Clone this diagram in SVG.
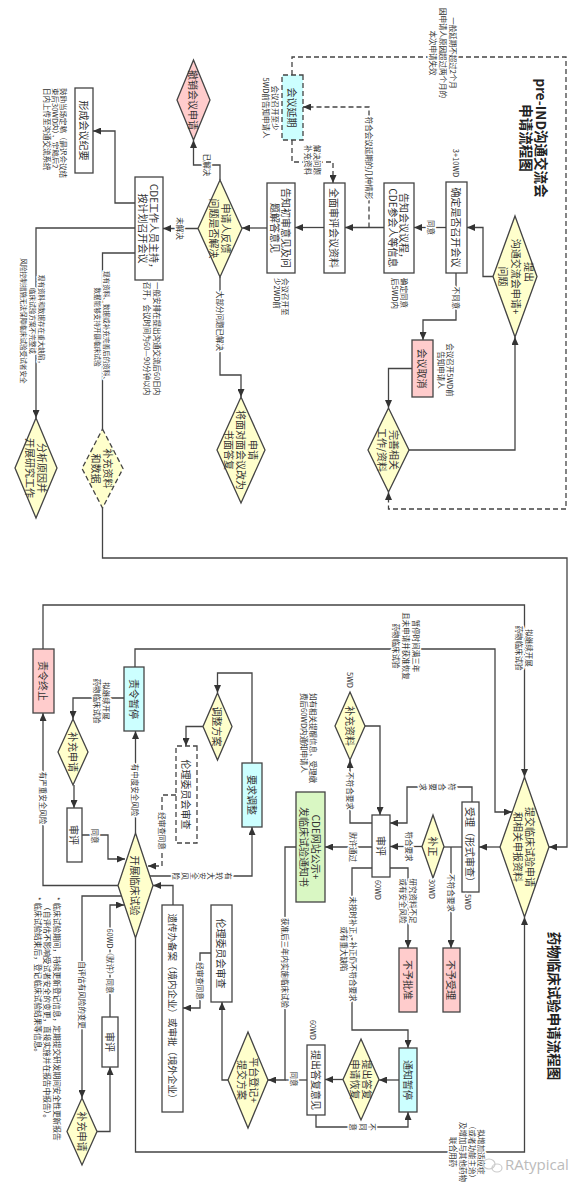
<svg xmlns="http://www.w3.org/2000/svg" width="586" height="1191" viewBox="0 0 586 1191">
<style>
.bx{fill:#fff;stroke:#444;stroke-width:1.3}
.dm{fill:#ffffcc;stroke:#444;stroke-width:1.3}
.pk{fill:#ffcccc}
.cy{fill:#ccffff}
.gr{fill:#d9f7c3}
.ds{stroke-dasharray:5 3}
.ln{fill:none;stroke:#444;stroke-width:1.3}
.ar{marker-end:url(#ah)}
text,tspan{font-family:"Noto Sans CJK SC","Noto Sans",sans-serif;fill:#333;text-anchor:middle;dominant-baseline:central}
.t{font-size:10px}
.l{font-size:7.5px;stroke:#fff;stroke-width:3;paint-order:stroke;stroke-linejoin:round}
.sm{font-size:6.6px}
.s{text-anchor:start}
.h{font-size:13.5px;font-weight:bold;fill:#222}
.wm{font-family:"Open Sans",sans-serif;font-size:15px;fill:#bbb;text-anchor:start;dominant-baseline:auto}
</style>
<defs>
<marker id="ah" markerUnits="userSpaceOnUse" markerWidth="8" markerHeight="7" refX="8" refY="3.5" orient="auto"><path d="M0,0 L8,3.5 L0,7 z" fill="#333"/></marker>
</defs>
<rect width="586" height="1191" fill="#fff"/>
<g transform="translate(586,0) rotate(90)">

<!-- ===== connectors ===== -->
<g id="connectors">
<!-- pre-IND section -->
<path class="ln ar" d="M276.5,93 V103 H227.5 V119"/>
<path class="ln ar" d="M227.5,140 V172"/>
<text class="l" x="227.5" y="155">同意</text>
<path class="ln ar" d="M227.5,202 V241"/>
<path class="ln ar ds" d="M227.5,217 H107 V283"/>
<text class="l" x="158" y="217">符合会议延期的几种情形</text>
<path class="ln ar ds" d="M140,294 H162 V253 H183"/>
<text class="l" x="160" y="269">解决问题</text>
<text class="l" x="160" y="278">补充资料</text>
<path class="ln ar ds" d="M75,294 H57 V20 H509 V197.5 H492"/>
<text class="l" x="53" y="133">一般延期不超过2个月</text>
<text class="l" x="53" y="143">因申请人原因超过两个月的</text>
<text class="l" x="53" y="153">本次申请失效</text>
<path class="ln ar" d="M273,130 H320 V163 H340"/>
<text class="l" x="298" y="130">不同意</text>
<path class="ln ar" d="M368.5,174 V197.5 H408"/>
<path class="ln ar" d="M450,177 V71 H337"/>
<path class="ln ar" d="M227.5,262 V291"/>
<path class="ln ar" d="M228,319 V344"/>
<path class="ln ar" d="M180,366 H165 V392.5 H140"/>
<text class="l" x="165" y="379">已解决</text>
<path class="ln ar" d="M228.5,388 V423"/>
<text class="l" x="228.5" y="406">未解决</text>
<path class="ln ar" d="M203,451 V471 H131 V493"/>
<path class="ln ar" d="M228,451 V550 H418"/>
<text class="l sm" x="321" y="544">现有资料和数据存在重大缺陷，</text>
<text class="l sm" x="321" y="553">临床试验方案不完整或</text>
<text class="l sm" x="321" y="562">风险控制措施无法保障临床试验受试者安全</text>
<path class="ln" d="M253,451 V483.5 H429"/>
<text class="l sm" x="327" y="479">现有资料、数据或补充完善后的资料、</text>
<text class="l sm" x="327" y="488">数据能够支持开展临床试验</text>
<path class="ln ar" d="M277,366 H375 V345 H397"/>
<text class="l" x="321" y="366">大部分问题已解决</text>
<path class="ln ar" d="M508,483.5 H558 V19 H847 V37"/>

<!-- clinical trial section -->
<path class="ln ar" d="M847,86 V107"/>
<path class="ln" d="M847,124 V142"/>
<path class="ln ar" d="M847,135 H948"/>
<text class="l" x="893" y="135">不符合要求</text>
<path class="ln ar" d="M802,114 H787 V179 H823 V196"/>
<text class="l"><tspan x="787" y="133.5">符</tspan><tspan x="787" y="143">合</tspan><tspan x="787" y="152.5">要</tspan><tspan x="787" y="162">求</tspan></text>
<path class="ln ar" d="M846.5,164 V196"/>
<text class="l" x="846.5" y="177">符合要求</text>
<path class="ln ar" d="M847,214 V261"/>
<text class="l" x="847" y="233">默许通过</text>
<path class="ln ar" d="M823,214 V236 H760"/>
<text class="l" x="791" y="236">不符合要求</text>
<path class="ln ar" d="M726,221 V206 H815"/>
<path class="ln ar" d="M868,214 V234 H1030 V178 H1048"/>
<text class="l" x="949" y="233">未按时补正，补正仍不符合要求</text>
<text class="l" x="949" y="242">或有重大缺陷</text>
<path class="ln ar" d="M868,196 V178 H948"/>
<text class="l" x="901" y="173">研究资料不足</text>
<text class="l" x="901" y="183">或有安全风险</text>
<path class="ln ar" d="M1080,187 V207"/>
<path class="ln ar" d="M1079.5,243 V261"/>
<path class="ln ar" d="M1115,270 H1127 V178 H1112"/>
<text class="l"><tspan x="1127" y="213">不</tspan><tspan x="1127" y="222.5">同</tspan><tspan x="1127" y="232">意</tspan></text>
<path class="ln ar" d="M847,290 V301 H1080 V318"/>
<text class="l" x="963" y="301">获准后三年内实施临床试验</text>
<path class="ln" d="M1080,279 V301"/>
<text class="l" x="1079" y="292">同意</text>
<path class="ln ar" d="M1080,358 V364 H1002"/>
<path class="ln ar" d="M953,375 V386 H1008 V403"/>
<text class="l" x="981" y="386">经审查同意</text>
<path class="ln ar" d="M905,413 H885.5 V433"/>
<path class="ln ar" d="M876,436 V334 H827"/>
<text class="l"><tspan x="876" y="357">有</tspan><tspan x="876" y="365.6">较</tspan><tspan x="876" y="374.2">大</tspan><tspan x="876" y="382.8">安</tspan><tspan x="876" y="391.4">全</tspan><tspan x="876" y="400">风</tspan><tspan x="876" y="408.6">险</tspan></text>
<path class="ln ar" d="M763,334 H673 V368.5 H693"/>
<path class="ln ar" d="M726.5,383 V400 H746"/>
<path class="ln ar ds" d="M795,410 V424 H866 V438"/>
<text class="l" x="831" y="424">经审查同意</text>
<path class="ln ar" d="M833,450.5 H731"/>
<text class="l" x="790" y="451">有中度安全风险</text>
<path class="ln ar" d="M885.5,468 V543 H713"/>
<text class="l" x="798" y="543">有严重安全风险</text>
<path class="ln ar" d="M896,464.5 V504 H1098"/>
<text class="l" x="995" y="504">自评估有风险的变更</text>
<path class="ln ar" d="M1131.5,489 V476 H1067"/>
<path class="ln ar" d="M1017,476 H905 V462"/>
<text class="l" x="961" y="476">60WD（默许）同意</text>
<path class="ln ar" d="M698,462 V513 H719"/>
<text class="l" x="701" y="480">拟继续开展</text>
<text class="l" x="701" y="489">药物临床试验</text>
<path class="ln ar" d="M785,512 H808"/>
<path class="ln ar" d="M835,504 V478 H859 V461"/>
<text class="l" x="836" y="491">同意</text>
<path class="ln ar" d="M938,450.5 H1152 V61.5 H917"/>
<text class="l" x="1152" y="105">拟增加适应症</text>
<text class="l" x="1152" y="114">（或者功能主治）</text>
<text class="l" x="1152" y="123">及增加与其他药物</text>
<text class="l" x="1152" y="133">联合用药</text>
<path class="ln ar" d="M667,451 H649 V91 H812 V74"/>
<text class="l" x="646" y="170">暂停时间满三年</text>
<text class="l" x="646" y="180">且未申请并获准恢复</text>
<text class="l" x="646" y="190">药物临床试验</text>
<path class="ln ar" d="M649,543 H605 V61.5 H777"/>
<text class="l" x="648" y="57">拟继续开展</text>
<text class="l" x="648" y="67">药物临床试验</text>
</g>

<!-- ===== pre-IND nodes ===== -->
<g id="title_preind"><text class="h" x="138" y="44">pre-IND沟通交流会</text><text class="h" x="138" y="59">申请流程图</text></g>
<g id="n_submit"><polygon class="dm" points="216,71 276.5,49 337,71 276.5,93"/><text class="t" x="272" y="57">提出</text><text class="t" x="276.5" y="70">沟通交流会申请+</text><text class="t" x="276.5" y="83">问题</text></g>
<g id="n_confirm"><rect class="bx" x="182" y="119" width="91" height="21"/><text class="t" x="227.5" y="129.5">确定是否召开会议</text><text class="l" x="163" y="129.5">3+10WD</text></g>
<g id="n_notify"><rect class="bx" x="183" y="172" width="90" height="30"/><text class="t" x="228" y="181.5">告知会议议程，</text><text class="t" x="228" y="193">CDE参会人等信息</text><text class="l s" x="278" y="182">确定同意</text><text class="l s" x="278" y="191">后5WD内</text></g>
<g id="n_review"><rect class="bx" x="183" y="241" width="90" height="21"/><text class="t" x="228" y="251.5">全面审评会议资料</text></g>
<g id="n_delay"><rect class="bx cy ds" x="75" y="283" width="65" height="21"/><text class="t" x="107.5" y="293.5">会议延期</text><text class="l" x="108" y="311">会议召开至少</text><text class="l" x="108" y="319.5">5WD前告知申请人</text></g>
<g id="n_feedback"><rect class="bx" x="183" y="291" width="90" height="28"/><text class="t" x="228" y="299.5">告知初审意见及问</text><text class="t" x="228" y="311">题解答意见</text><text class="l s" x="278" y="301">会议召开至</text><text class="l s" x="278" y="309">少2WD前</text></g>
<g id="n_resolve"><polygon class="dm" points="180,366 228.5,344 277,366 228.5,388"/><text class="t" x="228.5" y="360">申请人反馈</text><text class="t" x="228.5" y="372">问题是否解决</text></g>
<g id="n_withdraw"><polygon class="dm pk" points="60,392.5 100,376 140,392.5 100,409"/><text class="t" x="100" y="392.5">撤销会议申请</text></g>
<g id="n_cde"><rect class="bx" x="177" y="423" width="103" height="28"/><text class="t" x="228.5" y="431.5">CDE工作人员主持，</text><text class="t" x="228.5" y="443">按计划召开会议</text><text class="l s" x="282" y="429">一般安排在提出沟通交流后60日内</text><text class="l s" x="282" y="439">召开，会议时间为60—90分钟以内</text></g>
<g id="n_minutes"><rect class="bx" x="88" y="493" width="85" height="18"/><text class="t" x="130.5" y="502">形成会议纪要</text><text class="l s" x="88" y="523">鼓励当场定稿（最迟会议结</text><text class="l s" x="88" y="531">束后30WD内），定稿后2</text><text class="l s" x="88" y="539">日内上传至沟通交流系统</text></g>
<g id="n_analyze"><polygon class="dm" points="418,550 468,529 518,550 468,571"/><text class="t" x="468" y="544">分析原因并</text><text class="t" x="468" y="556">开展研究工作</text></g>
<g id="n_supplement"><polygon class="dm ds" points="429,483.5 468.5,463 508,483.5 468.5,504"/><text class="t" x="468.5" y="477.5">补充资料</text><text class="t" x="468.5" y="489.5">和数据</text></g>
<g id="n_written"><polygon class="dm" points="397,345 450,321 503,345 450,369"/><text class="t" x="450" y="333">申请</text><text class="t" x="450" y="345">将面对面会议改为</text><text class="t" x="450" y="357">书面答复</text></g>
<g id="n_cancel"><rect class="bx pk" x="340" y="153" width="57" height="21"/><text class="t" x="368.5" y="163.5">会议取消</text><text class="l" x="370" y="136">会议召开5WD前</text><text class="l" x="370" y="145">告知申请人</text></g>
<g id="n_improve"><polygon class="dm" points="408,197.5 450,177 492,197.5 450,218"/><text class="t" x="450" y="191.5">完善相关</text><text class="t" x="450" y="203.5">工作/资料</text></g>

<!-- ===== clinical trial nodes ===== -->
<g id="title_ct"><text class="h" x="1006" y="31">药物临床试验申请流程图</text></g>
<g id="b_submit"><polygon class="dm" points="777,61.5 847,37 917,61.5 847,86"/><text class="t" x="847" y="55.5">提交临床试验申请</text><text class="t" x="847" y="67.5">和相关申报资料</text></g>
<g id="b_accept"><rect class="bx" x="802" y="107" width="90" height="17"/><text class="t" x="847" y="115.5">受理（形式审查）</text><text class="l" x="902" y="118">5WD</text></g>
<g id="b_correct"><polygon class="dm" points="815,153 846.5,142 878,153 846.5,164"/><text class="t" x="846.5" y="153">补正</text><text class="l" x="889" y="154">30WD</text></g>
<g id="b_review"><rect class="bx" x="815" y="196" width="62" height="18"/><text class="t" x="846" y="205">审评</text><text class="l" x="890" y="208">60WD</text></g>
<g id="b_suppdata"><polygon class="dm" points="692,236 726,221 760,236 726,251"/><text class="t" x="726" y="236">补充资料</text><text class="l" x="680" y="236">5WD</text><text class="l s" x="693" y="273">如有相关提醒信息，受理缴</text><text class="l s" x="693" y="282">费后60WD内通知申请人</text></g>
<g id="b_publish"><rect class="bx gr" x="792" y="261" width="110" height="29"/><text class="t" x="847" y="270">CDE网站公示+</text><text class="t" x="847" y="282">发临床试验通知书</text></g>
<g id="b_reject_accept"><rect class="bx pk" x="948" y="126" width="64" height="17"/><text class="t" x="980" y="134.5">不予受理</text></g>
<g id="b_reject_approve"><rect class="bx pk" x="948" y="169" width="64" height="18"/><text class="t" x="980" y="178">不予批准</text></g>
<g id="b_suspend_notice"><rect class="bx cy" x="1048" y="169" width="64" height="18"/><text class="t" x="1080" y="178">通知暂停</text></g>
<g id="b_reply_resume"><polygon class="dm" points="1039,225 1079.5,207 1120,225 1079.5,243"/><text class="t" x="1079.5" y="219">提出答复</text><text class="t" x="1079.5" y="231">申请恢复</text></g>
<g id="b_reply_opinion"><rect class="bx" x="1045" y="261" width="70" height="18"/><text class="t" x="1080" y="270">提出答复意见</text><text class="l" x="1030" y="273">60WD</text></g>
<g id="b_register"><polygon class="dm" points="1032,338 1080,318 1128,338 1080,358"/><text class="t" x="1080" y="332">平台登记+</text><text class="t" x="1080" y="344">提交方案</text></g>
<g id="b_ethics"><rect class="bx" x="905" y="354" width="97" height="21"/><text class="t" x="953.5" y="364.5">伦理委员会审查</text></g>
<g id="b_hgrac"><rect class="bx" x="905" y="403" width="207" height="21"/><text class="t" x="1008.5" y="413.5" style="font-size:9.5px">遗传办备案（境内企业）或审批（境外企业）</text></g>
<g id="b_conduct"><polygon class="dm" points="833,450.5 885.5,433 938,450.5 885.5,468"/><text class="t" x="885.5" y="450.5">开展临床试验</text></g>
<g id="b_adjust_req"><rect class="bx cy" x="763" y="324" width="64" height="20"/><text class="t" x="795" y="334">要求调整</text></g>
<g id="b_adjust_plan"><polygon class="dm" points="693,368.5 726.5,354 760,368.5 726.5,383"/><text class="t" x="726.5" y="368.5">调整方案</text></g>
<g id="b_ethics2"><rect class="bx ds" x="746" y="389" width="97" height="21"/><text class="t" x="794.5" y="399.5">伦理委员会审查</text></g>
<g id="b_suspend"><rect class="bx cy" x="667" y="442" width="64" height="20"/><text class="t" x="699" y="452">责令暂停</text></g>
<g id="b_terminate"><rect class="bx pk" x="649" y="532" width="64" height="21"/><text class="t" x="681" y="542.5">责令终止</text></g>
<g id="b_suppapp1"><polygon class="dm" points="719,513 752,498 785,513 752,528"/><text class="t" x="752" y="513">补充申请</text></g>
<g id="b_review1"><rect class="bx" x="808" y="504" width="54" height="15"/><text class="t" x="835" y="511.5">审评</text></g>
<g id="b_suppapp2"><polygon class="dm" points="1098,504 1131.5,489 1165,504 1131.5,519"/><text class="t" x="1131.5" y="504">补充申请</text></g>
<g id="b_review2"><rect class="bx" x="1017" y="468" width="50" height="16"/><text class="t" x="1042" y="476">审评</text></g>
<g id="footnotes"><text class="l s" x="897" y="529" style="font-size:7.7px">* 临床试验期间，持续更新登记信息，定期提交研发期间安全性更新报告</text><text class="l s" x="903" y="538.5" style="font-size:7.7px">（自评估不影响受试者安全的变更，直接实施并在报告中报告）。</text><text class="l s" x="897" y="548" style="font-size:7.7px">* 临床试验结束后，登记临床试验结果等信息。</text></g>
</g>

<!-- watermark -->
<g id="watermark">
<ellipse cx="489" cy="1164" rx="6" ry="5" fill="none" stroke="#ccc" stroke-width="1.2"/>
<ellipse cx="497" cy="1168" rx="5" ry="4" fill="none" stroke="#ccc" stroke-width="1.2"/>
<text class="wm" x="505" y="1170">RAtypical</text>
</g>
</svg>
